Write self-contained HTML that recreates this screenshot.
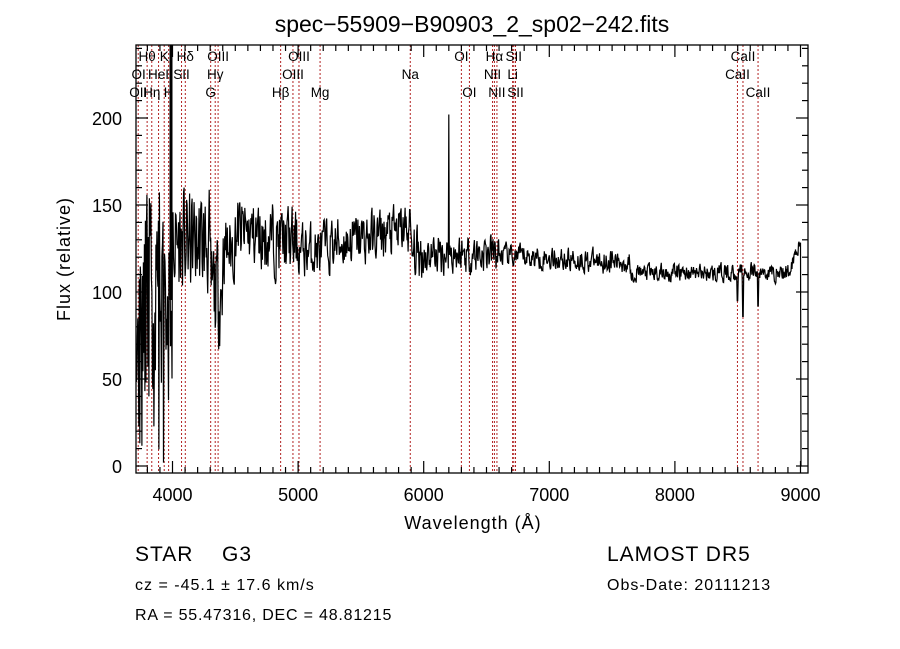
<!DOCTYPE html>
<html><head><meta charset="utf-8"><style>
html,body{margin:0;padding:0;background:#fff;}
svg{display:block;font-family:"Liberation Sans",sans-serif;}
</style></head><body>
<svg id="s" width="900" height="649" xmlns="http://www.w3.org/2000/svg">
<rect width="900" height="649" fill="#fff"/>
<text x="472" y="32" font-size="23" text-anchor="middle">spec−55909−B90903_2_sp02−242.fits</text>
<g id="lines"></g>
<g id="labels" font-size="13.5"></g>
<path id="spec" fill="none" stroke="#000" stroke-width="1.2"/>
<line x1="171" y1="45" x2="171" y2="300" stroke="#000" stroke-width="3"/>
<g id="ticks" stroke="#000" stroke-width="1.2"></g>
<rect x="136" y="45" width="672" height="428" fill="none" stroke="#000" stroke-width="1.3"/>
<g id="tl" font-size="18" text-anchor="middle"></g>
<text x="473" y="529" font-size="18" text-anchor="middle" letter-spacing="1">Wavelength (Å)</text>
<text transform="translate(70,259) rotate(-90)" font-size="18" text-anchor="middle" letter-spacing="1">Flux (relative)</text>
<text x="135" y="561" font-size="21" letter-spacing="1">STAR</text>
<text x="222" y="561" font-size="21" letter-spacing="1">G3</text>
<text x="135" y="590" font-size="16" letter-spacing="1">cz = -45.1 ± 17.6 km/s</text>
<text x="135" y="620" font-size="16" letter-spacing="0.8">RA =  55.47316, DEC =  48.81215</text>
<text x="607" y="561" font-size="21" letter-spacing="1">LAMOST DR5</text>
<text x="607" y="590" font-size="16" letter-spacing="1">Obs-Date: 20111213</text>
</svg>
<script>
var NS="http://www.w3.org/2000/svg";
function X(w){return 172.5+(w-4000)*0.1256;}
function Y(f){return 466-f*1.74;}
function el(p,t,a,txt){var e=document.createElementNS(NS,t);for(var k in a)e.setAttribute(k,a[k]);if(txt)e.textContent=txt;document.getElementById(p).appendChild(e);}
var L=[[3727,"OII",3],[3730,"OI",2],[3798,"Hθ",1],[3835,"Hη",3],[3889,"HeI",2],[3934,"K",1],[3969,"H",3],[4072,"SII",2],[4102,"Hδ",1],[4304,"G",3],[4340,"Hγ",2],[4363,"OIII",1],[4861,"Hβ",3],[4959,"OIII",2],[5007,"OIII",1],[5175,"Mg",3],[5893,"Na",2],[6300,"OI",1],[6364,"OI",3],[6548,"NII",2],[6563,"Hα",1],[6583,"NII",3],[6708,"Li",2],[6717,"SII",1],[6731,"SII",3],[8498,"CaII",2],[8542,"CaII",1],[8662,"CaII",3]];
var ry={1:61,2:79,3:97};
L.forEach(function(l){var x=X(l[0]);
if(l[0]!=3730)el("lines","line",{x1:x,y1:45,x2:x,y2:473,stroke:"#b22222","stroke-width":1,"stroke-dasharray":"2,2"});
el("labels","text",{x:x,y:ry[l[2]],"text-anchor":"middle"},l[1]);});
for(var w=3800;w<=9000;w+=100){var x=X(w),maj=w%1000==0;var len=maj?12:6;
el("ticks","line",{x1:x,y1:473,x2:x,y2:473-len});el("ticks","line",{x1:x,y1:45,x2:x,y2:45+len});
if(maj)el("tl","text",{x:x,y:501},String(w));}
for(var f=0;f<=240;f+=10){var y=Y(f),maj=f%50==0;var len=maj?12:6;
el("ticks","line",{x1:136,y1:y,x2:136+len,y2:y});el("ticks","line",{x1:808,y1:y,x2:808-len,y2:y});
if(maj)el("tl","text",{x:122,y:y+7,"text-anchor":"end"},String(f));}
var seed=11;function r(){seed=(seed*16807)%2147483647;return seed/2147483647;}
function base(w){
if(w<4000)return 95;
if(w<4300)return 128;
if(w<4400)return 100;
if(w<4500)return 125;
if(w<5000)return 135-(w-4500)*0.015;
if(w<5200)return 124;
if(w<5900)return 126+(w-5200)*0.015;
if(w<6600)return 122;
if(w<7650)return 121-(w-6600)*0.004;
if(w<8900)return 111;
return 111+(w-8900)*0.2;}
function amp(w){if(w<4000)return 55;if(w<4400)return 32;if(w<5000)return 21;if(w<6000)return 16;if(w<6600)return 12;if(w<7650)return 7;return 5.5;}
var d="",n=0;
for(var w=3712;w<=9010;w+=4){n=0.35*n+(r()-0.5)*1.7;var f=base(w)+n*amp(w);
if(w<4000&&r()<0.18)f=r()*60;
if(Math.abs(w-6200)<3)f=202;
if(Math.abs(w-8542)<4)f=86;if(Math.abs(w-8498)<3)f=95;if(Math.abs(w-8662)<3)f=92;
if(w>9000)f=0;
if(f<-3)f=-3;if(f>240)f=240;
d+=(d?"L":"M")+X(w).toFixed(1)+","+Y(f).toFixed(1);}
document.getElementById("spec").setAttribute("d",d);
</script>
</body></html>
